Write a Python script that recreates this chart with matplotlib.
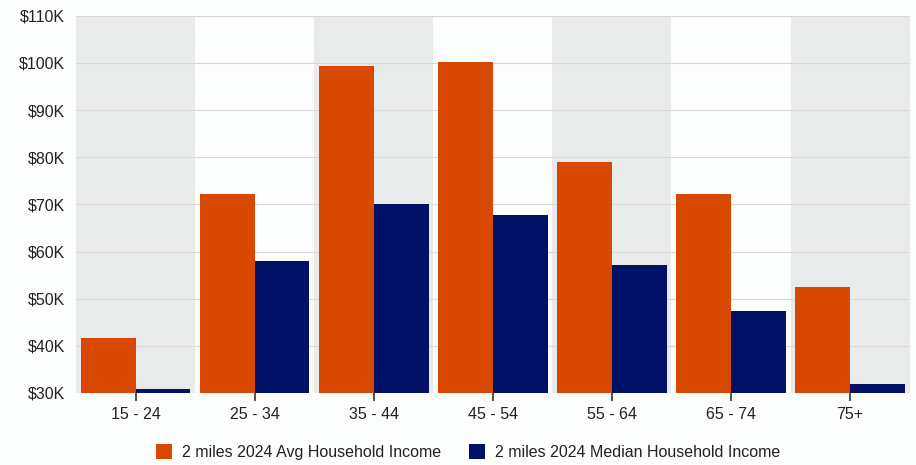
import numpy as np
import matplotlib.pyplot as plt
from matplotlib.ticker import FuncFormatter

plt.rcParams['font.family'] = ['Liberation Sans', 'DejaVu Sans']

# age groups and income values (in $K)
age_groups = ['15 - 24', '25 - 34', '35 - 44', '45 - 54', '55 - 64', '65 - 74', '75+']
avg_income = [41.7, 72.2, 99.4, 100.3, 79.0, 72.2, 52.4]
median_income = [30.9, 58.0, 70.1, 67.8, 57.2, 47.3, 31.9]
series_names = ['2 miles 2024 Avg Household Income', '2 miles 2024 Median Household Income']

orange = '#D94801'
navy = '#001166'

fig = plt.figure(figsize=(9.16, 4.65), dpi=100, facecolor='#fcfdfd')
ax = fig.add_axes([0.083, 0.155, 0.910, 0.811])
ax.set_facecolor('#fcfdfd')

x = np.arange(len(age_groups))
w = 0.46

# alternating band background
for i in x:
    if i % 2 == 0:
        ax.axvspan(i - 0.5, i + 0.5, color='#e9eaea', zorder=0, lw=0)

ax.bar(x - w / 2, avg_income, w, color=orange, label=series_names[0], zorder=3)
ax.bar(x + w / 2, median_income, w, color=navy, label=series_names[1], zorder=3)

ax.set_xlim(-0.5, len(age_groups) - 0.5)
ax.set_ylim(30, 110)
ax.set_yticks(np.arange(30, 111, 10))
ax.yaxis.set_major_formatter(FuncFormatter(lambda v, p: '$%dK' % v))
ax.grid(axis='y', color='#d8d8d8', lw=0.8, zorder=1)
ax.set_axisbelow(True)

ax.set_xticks(x)
ax.set_xticklabels(age_groups)
ax.tick_params(axis='x', length=6, width=1.2, color='#333333', labelsize=11.5, pad=4)
ax.tick_params(axis='y', length=0, labelsize=11.5, pad=8)
for lbl in ax.get_xticklabels() + ax.get_yticklabels():
    lbl.set_color('#222222')

for s in ax.spines.values():
    s.set_visible(False)

leg = fig.legend(loc='lower center', bbox_to_anchor=(0.511, -0.02), ncol=2, frameon=False,
                 fontsize=11.5, handlelength=1.0, handleheight=1.0, columnspacing=1.8,
                 handletextpad=0.6)
for t in leg.get_texts():
    t.set_color('#222222')

fig.savefig('out.png', dpi=100, facecolor=fig.get_facecolor())
